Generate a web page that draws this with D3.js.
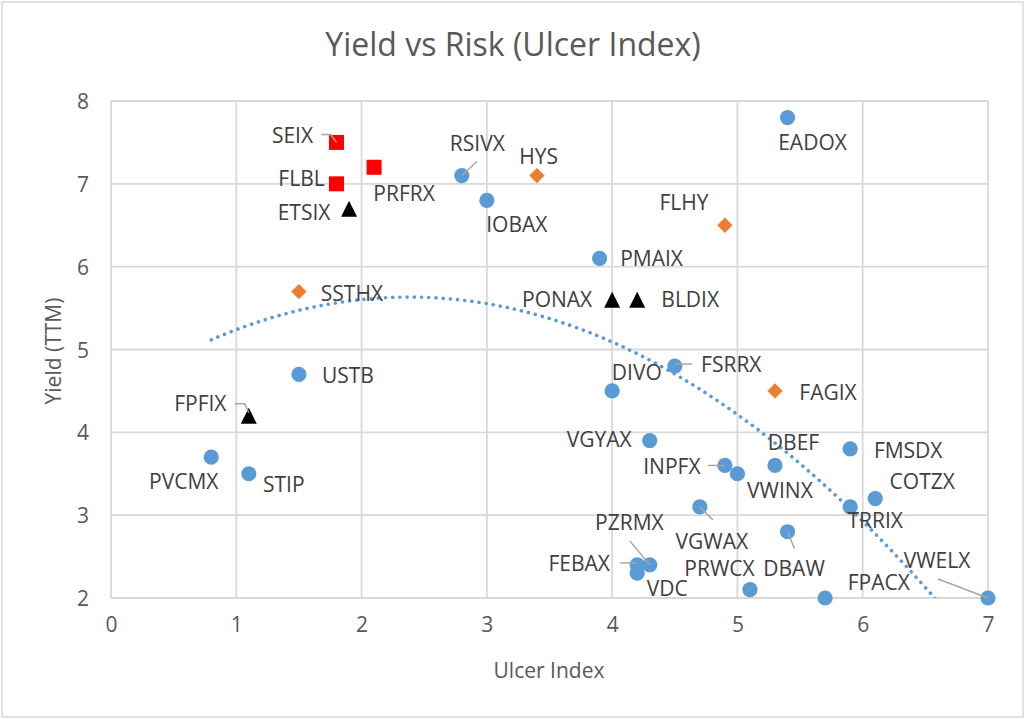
<!DOCTYPE html>
<html>
<head>
<meta charset="utf-8">
<script src="https://cdn.jsdelivr.net/npm/d3@7"></script>
<style>
  body { margin: 0; background: #fff; }
  text { font-family: "Open Sans", sans-serif; }
</style>
</head>
<body>
<div id="chart"></div>
<script>
// funds, one set of arrays per marker colour
const blueNames = ["PVCMX", "STIP", "USTB", "RSIVX", "IOBAX", "EADOX", "PMAIX", "FSRRX", "DIVO", "VGYAX", "INPFX", "VWINX",
  "DBEF", "FMSDX", "COTZX", "TRRIX", "VGWAX", "DBAW", "PZRMX", "FEBAX", "VDC", "PRWCX", "FPACX", "VWELX"];
const blueUlcer = [0.8, 1.1, 1.5, 2.8, 3.0, 5.4, 3.9, 4.5, 4.0, 4.3, 4.9, 5.0, 5.3, 5.9, 6.1, 5.9, 4.7, 5.4, 4.3, 4.2, 4.2, 5.1, 5.7, 7.0];
const blueYield = [3.7, 3.5, 4.7, 7.1, 6.8, 7.8, 6.1, 4.8, 4.5, 3.9, 3.6, 3.5, 3.6, 3.8, 3.2, 3.1, 3.1, 2.8, 2.4, 2.4, 2.3, 2.1, 2.0, 2.0];

const redNames = ["SEIX", "PRFRX", "FLBL"];
const redUlcer = [1.8, 2.1, 1.8];
const redYield = [7.5, 7.2, 7.0];

const blackNames = ["ETSIX", "PONAX", "BLDIX", "FPFIX"];
const blackUlcer = [1.9, 4.0, 4.2, 1.1];
const blackYield = [6.7, 5.6, 5.6, 4.2];

const orangeNames = ["SSTHX", "HYS", "FLHY", "FAGIX"];
const orangeUlcer = [1.5, 3.4, 4.9, 5.3];
const orangeYield = [5.7, 7.1, 6.5, 4.5];

const xTicks = [0, 1, 2, 3, 4, 5, 6, 7];
const yTicks = [2, 3, 4, 5, 6, 7, 8];

// label placement (offset from marker centre, px) and leader lines
const labelOffset = {
  SEIX: [-44, -7], FLBL: [-35, -5.5], ETSIX: [-45, 3.5], PRFRX: [30, 26], RSIVX: [15.5, -32], SSTHX: [53, 1.7],
  IOBAX: [30, 24.5], HYS: [1.7, -19], EADOX: [25, 25], FLHY: [-41, -23], PMAIX: [52, 0], PONAX: [-55, 0],
  BLDIX: [53, 0], USTB: [49, 1.5], FPFIX: [-48.5, -12], PVCMX: [-27.5, 24], STIP: [35, 11], FSRRX: [56.5, -2],
  DIVO: [24.7, -18], FAGIX: [53, 1.7], VGYAX: [-50.6, -1.5], INPFX: [-53, 0.5], VWINX: [42.5, 16.5],
  DBEF: [18.5, -23], FMSDX: [58, 1.5], COTZX: [47, -17.6], TRRIX: [25, 14], VGWAX: [12, 34.5],
  PZRMX: [-20.3, -42.5], FEBAX: [-58, -1], VDC: [30, 15.6], PRWCX: [-30.5, -21], DBAW: [6.5, 36.6],
  FPACX: [53.7, -16], VWELX: [-51, -37.5]
};
const leaders = {
  SEIX: [[-15, -8], [-6, -8], [0, 0]],
  RSIVX: [[15, -14], [0, 0]],
  FPFIX: [[-14, -12], [-4, -12], [0, -3]],
  FSRRX: [[17, -2], [0, -2]],
  INPFX: [[-17, 0], [0, 0]],
  PZRMX: [[-20, -24], [0, 0]],
  FEBAX: [[-17, -2], [0, -2]],
  VGWAX: [[0, 0], [13, 13]],
  DBAW: [[0, 0], [7, 17]],
  VWELX: [[-50, -19], [0, 0]]
};

const width = 1025, height = 719;
const margin = { top: 101, right: 37, bottom: 121, left: 111 };

const svg = d3.select('#chart').append('svg')
  .attr('width', width)
  .attr('height', height);

svg.append('rect')
  .attr('x', 2).attr('y', 2)
  .attr('width', width - 4).attr('height', height - 4)
  .attr('fill', '#fff')
  .attr('stroke', '#d9d9d9')
  .attr('stroke-width', 1.5);

const x = d3.scaleLinear().domain([0, 7]).range([margin.left, width - margin.right]);
const y = d3.scaleLinear().domain([2, 8]).range([height - margin.bottom, margin.top]);

// gridlines
svg.append('g').selectAll('line').data(xTicks).enter().append('line')
  .attr('x1', d => x(d)).attr('x2', d => x(d))
  .attr('y1', y(2)).attr('y2', y(8))
  .attr('stroke', '#d9d9d9').attr('stroke-width', 1.8);
svg.append('g').selectAll('line').data(yTicks).enter().append('line')
  .attr('x1', x(0)).attr('x2', x(7))
  .attr('y1', d => y(d)).attr('y2', d => y(d))
  .attr('stroke', '#d9d9d9').attr('stroke-width', 1.8);

// axes (labels only, Excel style)
const xAxis = svg.append('g')
  .attr('transform', `translate(0,${y(2) + 26})`)
  .call(d3.axisBottom(x).tickValues(xTicks).tickSize(0).tickFormat(d3.format('d')));
const yAxis = svg.append('g')
  .attr('transform', `translate(${x(0) - 22},0)`)
  .call(d3.axisLeft(y).tickValues(yTicks).tickSize(0).tickFormat(d3.format('d')));
[xAxis, yAxis].forEach(a => {
  a.select('.domain').remove();
  a.selectAll('text')
    .attr('font-family', '"Open Sans", sans-serif')
    .attr('font-size', 21)
    .attr('fill', '#595959');
});
xAxis.selectAll('text').attr('dy', '0.36em').attr('y', 0);
yAxis.selectAll('text').attr('dy', '0.36em').attr('x', 0);

// titles
svg.append('text')
  .attr('x', 513).attr('y', 56)
  .attr('text-anchor', 'middle')
  .attr('font-size', 32)
  .attr('fill', '#595959')
  .text('Yield vs Risk (Ulcer Index)');
svg.append('text')
  .attr('x', 549).attr('y', 670)
  .attr('dy', '0.36em')
  .attr('text-anchor', 'middle')
  .attr('font-size', 21)
  .attr('fill', '#595959')
  .text('Ulcer Index');
svg.append('text')
  .attr('transform', 'translate(53,351) rotate(-90)')
  .attr('dy', '0.36em')
  .attr('text-anchor', 'middle')
  .attr('font-size', 21)
  .attr('fill', '#595959')
  .text('Yield (TTM)');

// markers
const triangle = {
  draw(ctx, size) {
    const s = Math.sqrt(size);
    ctx.moveTo(0, -s / 2);
    ctx.lineTo(s / 2, s / 2);
    ctx.lineTo(-s / 2, s / 2);
    ctx.closePath();
  }
};
const series = [
  { names: blueNames, xs: blueUlcer, ys: blueYield, color: '#5b9bd5', symbol: d3.symbolCircle, size: Math.PI * 7.6 * 7.6, rotate: 0 },
  { names: redNames, xs: redUlcer, ys: redYield, color: '#ff0000', symbol: d3.symbolSquare, size: 15 * 15, rotate: 0 },
  { names: blackNames, xs: blackUlcer, ys: blackYield, color: '#000000', symbol: triangle, size: 16 * 16, rotate: 0 },
  { names: orangeNames, xs: orangeUlcer, ys: orangeYield, color: '#ed7d31', symbol: d3.symbolSquare, size: 10.8 * 10.8, rotate: 45 }
];

const points = [];
series.forEach(s => {
  s.names.forEach((name, i) => points.push({ name, ux: s.xs[i], yy: s.ys[i], s }));
});

// polynomial (order 2) trendline over every fund, least squares
function polyFit(xs, ys, order) {
  const n = order + 1;
  const A = Array.from({ length: n }, () => new Array(n + 1).fill(0));
  xs.forEach((xv, k) => {
    for (let i = 0; i < n; i++) {
      for (let j = 0; j < n; j++) A[i][j] += Math.pow(xv, i + j);
      A[i][n] += ys[k] * Math.pow(xv, i);
    }
  });
  for (let c = 0; c < n; c++) {
    let p = c;
    for (let r = c + 1; r < n; r++) if (Math.abs(A[r][c]) > Math.abs(A[p][c])) p = r;
    [A[c], A[p]] = [A[p], A[c]];
    for (let r = 0; r < n; r++) {
      if (r === c) continue;
      const f = A[r][c] / A[c][c];
      for (let k = c; k <= n; k++) A[r][k] -= f * A[c][k];
    }
  }
  return A.map((row, i) => row[n] / row[i]);
}
const allX = points.map(d => d.ux), allY = points.map(d => d.yy);
const coef = polyFit(allX, allY, 2);
const xMin = d3.min(allX), xMax = d3.max(allX);
const trend = d3.range(0, 201).map(i => {
  const xv = xMin + (xMax - xMin) * i / 200;
  return [xv, coef[0] + coef[1] * xv + coef[2] * xv * xv];
});

svg.append('clipPath').attr('id', 'plot-clip')
  .append('rect')
  .attr('x', x(0)).attr('y', y(8))
  .attr('width', x(7) - x(0)).attr('height', y(2) - y(8));

const line = d3.line().x(d => x(d[0])).y(d => y(d[1]));
svg.append('path')
  .datum(trend)
  .attr('clip-path', 'url(#plot-clip)')
  .attr('d', line)
  .attr('fill', 'none')
  .attr('stroke', '#5b9bd5')
  .attr('stroke-width', 3.6)
  .attr('stroke-linecap', 'round')
  .attr('stroke-dasharray', '0.01 7.2');

svg.append('g').selectAll('path').data(points).enter().append('path')
  .attr('transform', d => `translate(${x(d.ux)},${y(d.yy)}) rotate(${d.s.rotate})`)
  .attr('d', d => d3.symbol(d.s.symbol, d.s.size)())
  .attr('fill', d => d.s.color);

// leader lines
svg.append('g').selectAll('path').data(points.filter(d => leaders[d.name])).enter().append('path')
  .attr('d', d => d3.line()(leaders[d.name].map(p => [x(d.ux) + p[0], y(d.yy) + p[1]])))
  .attr('fill', 'none')
  .attr('stroke', '#a6a6a6')
  .attr('stroke-width', 1.5);

// data labels
svg.append('g').selectAll('text').data(points).enter().append('text')
  .attr('x', d => x(d.ux) + labelOffset[d.name][0])
  .attr('y', d => y(d.yy) + labelOffset[d.name][1])
  .attr('dy', '0.36em')
  .attr('text-anchor', 'middle')
  .attr('font-size', 21)
  .attr('fill', '#404040')
  .text(d => d.name);
</script>
</body>
</html>
